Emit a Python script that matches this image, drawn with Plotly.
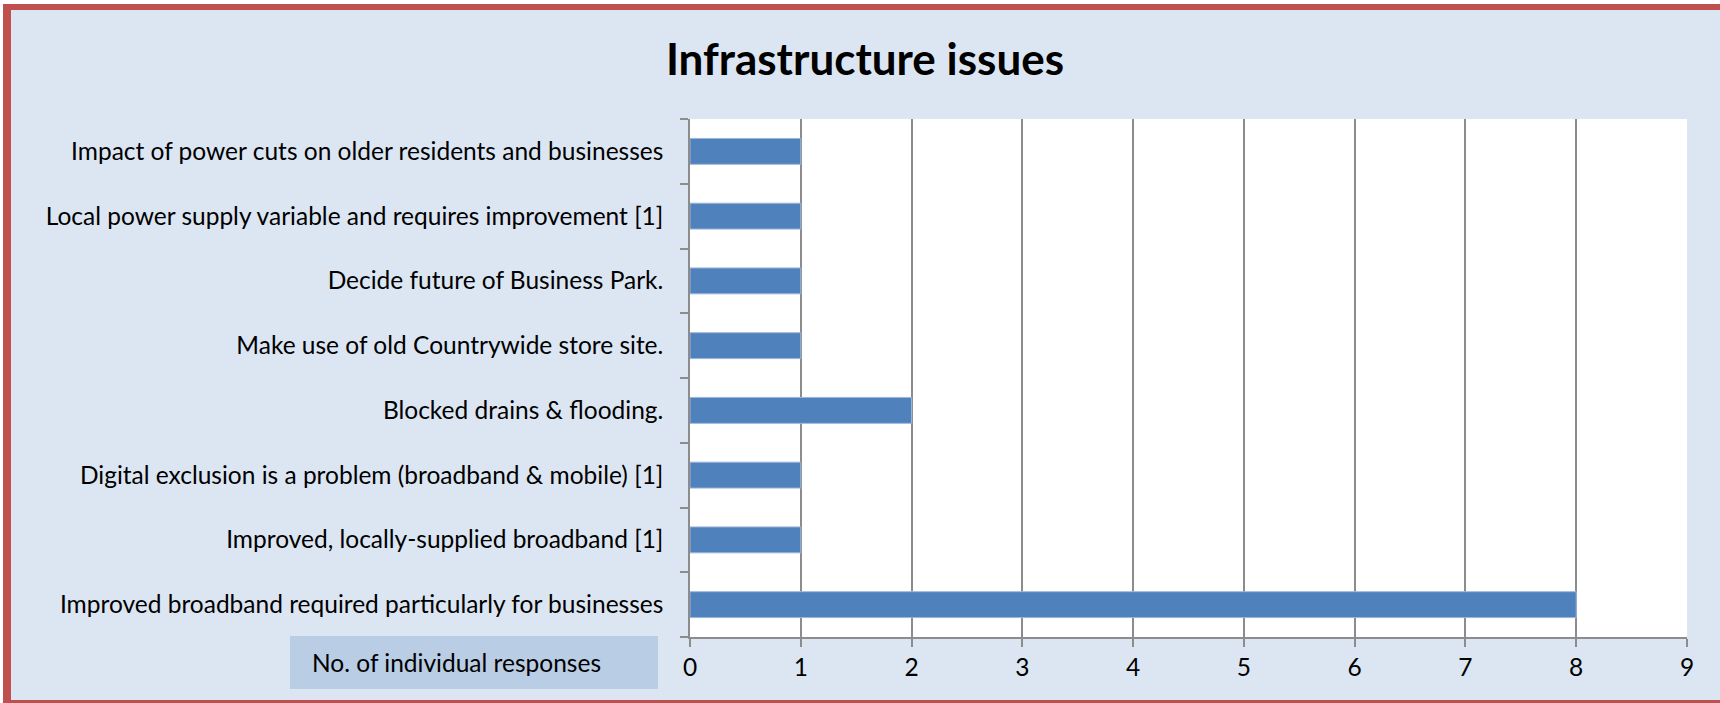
import plotly.graph_objects as go

# Survey responses on infrastructure, listed bottom-to-top as plotted
issues = [
    "Improved broadband required particularly for businesses",
    "Improved, locally-supplied broadband [1]",
    "Digital exclusion is a problem (broadband & mobile) [1]",
    "Blocked drains & flooding.",
    "Make use of old Countrywide store site.",
    "Decide future of Business Park.",
    "Local power supply variable and requires improvement [1]",
    "Impact of power cuts on older residents and businesses",
]
responses = [8, 1, 1, 2, 1, 1, 1, 1]
x_ticks = [0, 1, 2, 3, 4, 5, 6, 7, 8, 9]

W, H = 1720, 703
PL, PR, PT, PB = 690, 1687, 119, 637  # plot area in pixels
FONT = "Lato"
LABEL_SIZE = 24.5


def px_x(p):
    return (p - PL) / (PR - PL)


def px_y(p):
    return (PB - p) / (PB - PT)


fig = go.Figure(
    go.Bar(
        x=responses,
        y=issues,
        orientation="h",
        width=0.4,
        marker=dict(color="#4F81BD", line=dict(color="#9DB7DA", width=1)),
    )
)

shapes = [
    # caption box under the category labels
    dict(type="rect", xref="paper", yref="paper",
         x0=px_x(290), x1=px_x(658), y0=px_y(689), y1=px_y(636),
         fillcolor="#B9CDE5", line=dict(width=0), layer="above"),
    # white outer strips
    dict(type="rect", xref="paper", yref="paper",
         x0=px_x(0), x1=px_x(3), y0=px_y(H + 2), y1=px_y(-2),
         fillcolor="white", line=dict(width=0), layer="above"),
    dict(type="rect", xref="paper", yref="paper",
         x0=px_x(0), x1=px_x(W + 2), y0=px_y(4), y1=px_y(-2),
         fillcolor="white", line=dict(width=0), layer="above"),
    # red frame
    dict(type="rect", xref="paper", yref="paper",
         x0=px_x(3), x1=px_x(W + 2), y0=px_y(10), y1=px_y(4),
         fillcolor="#C0504D", line=dict(width=0), layer="above"),
    dict(type="rect", xref="paper", yref="paper",
         x0=px_x(3), x1=px_x(11), y0=px_y(H + 2), y1=px_y(4),
         fillcolor="#C0504D", line=dict(width=0), layer="above"),
    dict(type="rect", xref="paper", yref="paper",
         x0=px_x(3), x1=px_x(W + 2), y0=px_y(H + 2), y1=px_y(700),
         fillcolor="#C0504D", line=dict(width=0), layer="above"),
]

annotations = [
    dict(text="No. of individual responses", xref="paper", yref="paper",
         x=px_x(310), y=px_y(662), xanchor="left", yanchor="middle",
         showarrow=False, font=dict(family=FONT, size=LABEL_SIZE, color="black")),
]

fig.update_layout(
    width=W,
    height=H,
    margin=dict(l=PL, r=W - PR, t=PT, b=H - PB, pad=0),
    paper_bgcolor="#DCE6F2",
    plot_bgcolor="white",
    showlegend=False,
    shapes=shapes,
    annotations=annotations,
    title=dict(
        text="<b>Infrastructure issues</b>",
        x=865 / W, xref="container", xanchor="center",
        y=1 - 60 / H, yref="container", yanchor="middle",
        font=dict(family=FONT, size=44, color="black"),
    ),
    font=dict(family=FONT, size=LABEL_SIZE, color="black"),
    bargap=0.6,
)

fig.update_xaxes(
    range=[0, 9],
    tickvals=x_ticks,
    showgrid=True, gridcolor="#8C8C8C", gridwidth=1.5,
    showline=True, linecolor="#8C8C8C", linewidth=1.5,
    ticks="outside", ticklen=8, tickcolor="#8C8C8C", tickwidth=1.5,
    zeroline=False,
    tickfont=dict(family=FONT, size=LABEL_SIZE, color="black"),
)
fig.update_yaxes(
    type="category",
    categoryorder="array", categoryarray=issues,
    showgrid=False,
    showline=True, linecolor="#8C8C8C", linewidth=1.5,
    ticks="outside", ticklen=8, tickcolor="#8C8C8C", tickwidth=1.5,
    tickson="boundaries",
    ticklabelstandoff=20,
    tickfont=dict(family=FONT, size=LABEL_SIZE, color="black"),
)

fig.write_html("out.html")
